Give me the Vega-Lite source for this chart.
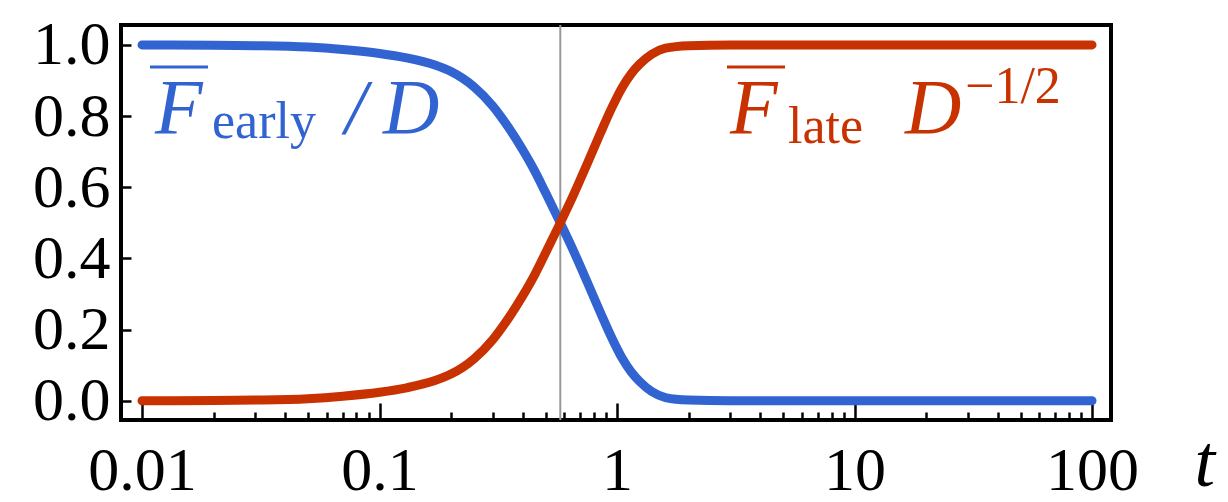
{
  "$schema": "https://vega.github.io/schema/vega-lite/v6.json",
  "width": 990,
  "height": 395,
  "autosize": {"type": "none"},
  "padding": {"left": 121, "top": 25, "right": 117, "bottom": 82},
  "background": "white",
  "config": {
    "view": {"stroke": "black", "strokeWidth": 4},
    "axis": {"grid": false, "domain": false, "tickColor": "black", "tickWidth": 2.5, "labelColor": "black", "labelFont": "Liberation Serif", "labelFontSize": 62}
  },
  "datasets": {
    "curves": [
      {"t": 0.01, "early": 1.0, "late": 0.0},
      {"t": 0.02, "early": 0.999, "late": 0.001},
      {"t": 0.03, "early": 0.998, "late": 0.002},
      {"t": 0.05, "early": 0.994, "late": 0.006},
      {"t": 0.07, "early": 0.987, "late": 0.013},
      {"t": 0.1, "early": 0.976, "late": 0.024},
      {"t": 0.13, "early": 0.9635, "late": 0.0365},
      {"t": 0.17, "early": 0.944, "late": 0.056},
      {"t": 0.2, "early": 0.925, "late": 0.075},
      {"t": 0.25, "early": 0.882, "late": 0.118},
      {"t": 0.3, "early": 0.828, "late": 0.172},
      {"t": 0.35, "early": 0.767, "late": 0.233},
      {"t": 0.4, "early": 0.706, "late": 0.294},
      {"t": 0.45, "early": 0.646, "late": 0.354},
      {"t": 0.5, "early": 0.585, "late": 0.415},
      {"t": 0.577, "early": 0.5, "late": 0.5},
      {"t": 0.65, "early": 0.427, "late": 0.573},
      {"t": 0.75, "early": 0.333, "late": 0.667},
      {"t": 0.85, "early": 0.249, "late": 0.751},
      {"t": 0.95, "early": 0.177, "late": 0.823},
      {"t": 1.05, "early": 0.12, "late": 0.88},
      {"t": 1.15, "early": 0.08, "late": 0.92},
      {"t": 1.25, "early": 0.053, "late": 0.947},
      {"t": 1.4, "early": 0.026, "late": 0.974},
      {"t": 1.6, "early": 0.009, "late": 0.991},
      {"t": 2.0, "early": 0.002, "late": 0.998},
      {"t": 3.0, "early": 0.0, "late": 1.0},
      {"t": 10.0, "early": 0.0, "late": 1.0},
      {"t": 100.0, "early": 0.0, "late": 1.0}
    ],
    "bigText": [
      {"text": "F", "t": 0.01134, "v": 0.7526, "series": "early"},
      {"text": "/", "t": 0.0716, "v": 0.7526, "series": "early"},
      {"text": "D", "t": 0.1034, "v": 0.7526, "series": "early"},
      {"text": "F", "t": 2.99, "v": 0.7526, "series": "late"},
      {"text": "D", "t": 16.32, "v": 0.7526, "series": "late"}
    ],
    "smallText": [
      {"text": "early", "t": 0.01971, "v": 0.7386, "series": "early"},
      {"text": "late", "t": 5.25, "v": 0.7245, "series": "late"},
      {"text": "−1/2", "t": 29.2, "v": 0.837, "series": "late"}
    ],
    "bars": [
      {"t": 0.01081, "t2": 0.01897, "v": 0.938, "series": "early"},
      {"t": 2.905, "t2": 5.1, "v": 0.938, "series": "late"}
    ],
    "marker": [{"t": 0.577}]
  },
  "layer": [
    {
      "data": {"name": "marker"},
      "mark": {"type": "rule", "color": "#999999", "strokeWidth": 2},
      "encoding": {
        "x": {
          "field": "t", "type": "quantitative",
          "scale": {"type": "log", "domain": [0.008157, 120.2], "nice": false},
          "axis": {
            "orient": "bottom",
            "values": [0.01, 0.02, 0.03, 0.04, 0.05, 0.06, 0.07, 0.08, 0.09, 0.1, 0.2, 0.3, 0.4, 0.5, 0.6, 0.7, 0.8, 0.9, 1, 2, 3, 4, 5, 6, 7, 8, 9, 10, 20, 30, 40, 50, 60, 70, 80, 90, 100],
            "tickSize": {"condition": {"test": "abs(log(datum.value)/LN10 - round(log(datum.value)/LN10)) < 0.001", "value": -17}, "value": -8},
            "labelExpr": "abs(log(datum.value)/LN10 - round(log(datum.value)/LN10)) < 0.001 ? format(datum.value, '~g') : ''",
            "labelOverlap": false,
            "labelFlush": false,
            "labelPadding": 37,
            "labelBaseline": "top",
            "title": "t",
            "titleFont": "Liberation Serif",
            "titleFontStyle": "italic",
            "titleFontWeight": "normal",
            "titleFontSize": 74,
            "titleColor": "black",
            "titleAnchor": "start",
            "titleAlign": "left",
            "titleBaseline": "alphabetic",
            "titleX": 1073,
            "titleY": 65
          }
        }
      }
    },
    {
      "data": {"name": "curves"},
      "mark": {"type": "line", "color": "#3164d1", "strokeWidth": 9, "strokeCap": "round", "interpolate": "monotone"},
      "encoding": {
        "x": {"field": "t", "type": "quantitative"},
        "y": {
          "field": "early", "type": "quantitative",
          "scale": {"domain": [-0.054, 1.056], "nice": false, "zero": false},
          "axis": {
            "orient": "left",
            "values": [0, 0.05, 0.1, 0.15, 0.2, 0.25, 0.3, 0.35, 0.4, 0.45, 0.5, 0.55, 0.6, 0.65, 0.7, 0.75, 0.8, 0.85, 0.9, 0.95, 1.0],
            "tickSize": {"condition": {"test": "abs(datum.value*5 - round(datum.value*5)) < 0.001", "value": -10}, "value": -5},
            "labelExpr": "abs(datum.value*5 - round(datum.value*5)) < 0.001 ? format(datum.value, '.1f') : ''",
            "labelOverlap": false,
            "labelFlush": false,
            "labelPadding": 21,
            "title": null
          }
        }
      }
    },
    {
      "data": {"name": "curves"},
      "mark": {"type": "line", "color": "#c83200", "strokeWidth": 9, "strokeCap": "round", "interpolate": "monotone"},
      "encoding": {
        "x": {"field": "t", "type": "quantitative"},
        "y": {"field": "late", "type": "quantitative"}
      }
    },
    {
      "data": {"name": "bigText"},
      "mark": {"type": "text", "font": "Liberation Serif", "fontStyle": "italic", "fontSize": 78, "align": "left", "baseline": "alphabetic"},
      "encoding": {
        "x": {"field": "t", "type": "quantitative"},
        "y": {"field": "v", "type": "quantitative"},
        "text": {"field": "text"},
        "color": {"field": "series", "type": "nominal", "scale": {"domain": ["early", "late"], "range": ["#3164d1", "#c83200"]}, "legend": null}
      }
    },
    {
      "data": {"name": "smallText"},
      "mark": {"type": "text", "font": "Liberation Serif", "fontStyle": "normal", "fontSize": 52, "align": "left", "baseline": "alphabetic"},
      "encoding": {
        "x": {"field": "t", "type": "quantitative"},
        "y": {"field": "v", "type": "quantitative"},
        "text": {"field": "text"},
        "color": {"field": "series", "type": "nominal", "legend": null}
      }
    },
    {
      "data": {"name": "bars"},
      "mark": {"type": "rule", "strokeWidth": 3},
      "encoding": {
        "x": {"field": "t", "type": "quantitative"},
        "x2": {"field": "t2"},
        "y": {"field": "v", "type": "quantitative"},
        "color": {"field": "series", "type": "nominal", "legend": null}
      }
    }
  ]
}
